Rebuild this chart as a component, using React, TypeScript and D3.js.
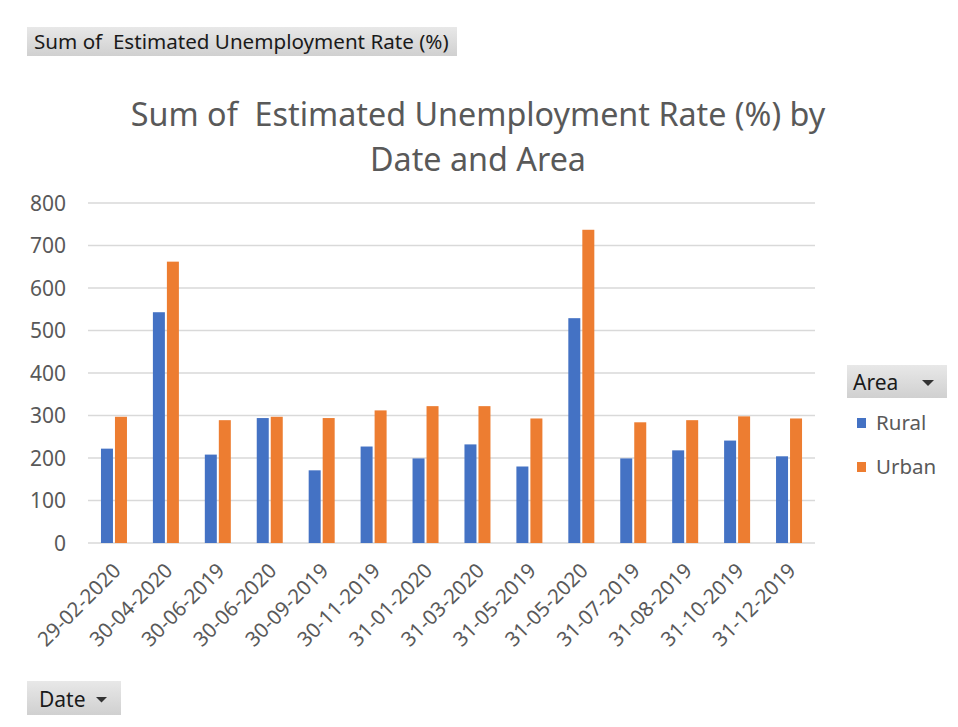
import React from "react";
import * as d3 from "d3";

const categories = [
  "29-02-2020", "30-04-2020", "30-06-2019", "30-06-2020", "30-09-2019",
  "30-11-2019", "31-01-2020", "31-03-2020", "31-05-2019", "31-05-2020",
  "31-07-2019", "31-08-2019", "31-10-2019", "31-12-2019",
];
const rural = [222, 543, 208, 294, 171, 227, 199, 232, 180, 529, 199, 218, 241, 204];
const urban = [297, 662, 289, 297, 294, 312, 322, 322, 293, 737, 284, 289, 298, 293];
const yTicks = [0, 100, 200, 300, 400, 500, 600, 700, 800];
const seriesNames = ["Rural", "Urban"];
const colors = ["#4472C4", "#ED7D31"];

const W = 958, H = 727;
const plotL = 88, plotR = 815, plotT = 203, plotB = 543;
const FONT = "'Noto Sans', 'Open Sans', sans-serif";
const TXT = "#595959";

export default function App() {
  const x = d3.scaleBand<string>().domain(categories).range([plotL, plotR]).paddingInner(0).paddingOuter(0);
  const y = d3.scaleLinear().domain([0, 800]).range([plotB, plotT]);
  const bw = 12, gap = 2;
  const series = [rural, urban];
  return (
    <svg width={W} height={H} style={{ position: "absolute", left: 0, top: 0, background: "#fff" }}>
      <defs>
        <linearGradient id="btn" x1="0" y1="0" x2="0" y2="1">
          <stop offset="0" stopColor="#e8e8e8" />
          <stop offset="1" stopColor="#d0d0d0" />
        </linearGradient>
      </defs>
      <rect width={W} height={H} fill="#fff" />
      {/* top-left field button */}
      <rect x={27} y={27} width={430} height={29} fill="url(#btn)" />
      <text x={34} y={49} fontFamily={FONT} fontSize={20.6} fill="#1a1a1a" style={{ whiteSpace: "pre" }}>
        Sum of  Estimated Unemployment Rate (%)
      </text>
      {/* title */}
      <text x={478} y={126} textAnchor="middle" fontFamily={FONT} fontSize={32.3} fill={TXT} style={{ whiteSpace: "pre" }}>
        Sum of  Estimated Unemployment Rate (%) by
      </text>
      <text x={478} y={171} textAnchor="middle" fontFamily={FONT} fontSize={32.3} fill={TXT}>
        Date and Area
      </text>
      {/* grid */}
      {yTicks.map((t) => (
        <g key={t}>
          <line x1={plotL} x2={plotR} y1={y(t)} y2={y(t)} stroke="#d9d9d9" strokeWidth={1.3} />
          <text x={66} y={y(t) + 7.5} textAnchor="end" fontFamily={FONT} fontSize={21} fill={TXT}>{t}</text>
        </g>
      ))}
      {/* bars */}
      {categories.map((c, i) => {
        const cx = (x(c) as number) + x.bandwidth() / 2;
        return (
          <g key={c}>
            {series.map((s, k) => {
              const bx = k === 0 ? cx - gap / 2 - bw : cx + gap / 2;
              return (
                <rect key={k} x={bx} y={y(s[i])} width={bw} height={plotB - y(s[i])} fill={colors[k]} />
              );
            })}
            <text
              transform={`translate(${cx + 8},${plotB + 29}) rotate(-45)`}
              textAnchor="end"
              fontFamily={FONT}
              fontSize={20.5}
              fill={TXT}
            >
              {c}
            </text>
          </g>
        );
      })}
      {/* legend */}
      <rect x={847} y={365} width={100} height={33} fill="url(#btn)" />
      <text x={853} y={390} fontFamily={FONT} fontSize={21} fill="#1a1a1a">Area</text>
      <path d="M 922 380 L 934 380 L 928 386 Z" fill="#333" />
      {seriesNames.map((n, k) => (
        <g key={n}>
          <rect x={857} y={418 + k * 44} width={9} height={10} fill={colors[k]} />
          <text x={876} y={430 + k * 44} fontFamily={FONT} fontSize={20.5} fill={TXT}>{n}</text>
        </g>
      ))}
      {/* Date button */}
      <rect x={27} y={681} width={94} height={34} fill="url(#btn)" />
      <text x={39} y={707} fontFamily={FONT} fontSize={21} fill="#1a1a1a">Date</text>
      <path d="M 96 697 L 107 697 L 101.5 702.5 Z" fill="#333" />
    </svg>
  );
}
